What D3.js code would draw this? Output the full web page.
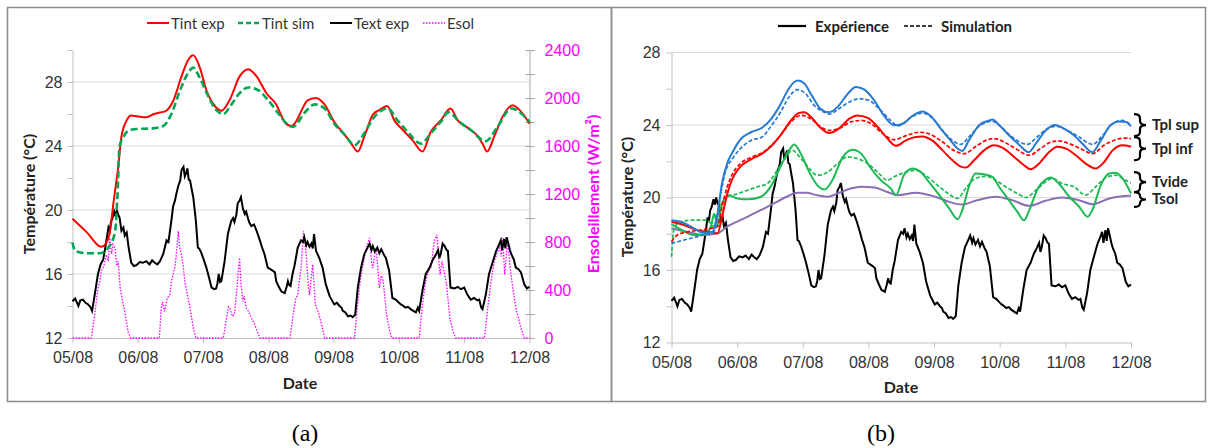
<!DOCTYPE html>
<html><head><meta charset="utf-8">
<script src="https://cdn.jsdelivr.net/npm/d3@7"></script>
<style>
body{margin:0;background:#fff;}
svg{display:block;font-family:Lato,"Open Sans",sans-serif;}
</style></head>
<body>
<svg id="c" width="1212" height="448"></svg>
<script>
// ---------- DATA ----------
const dateLabels = ["05/08","06/08","07/08","08/08","09/08","10/08","11/08","12/08"];
const tempTicksA = [12,14,16,18,20,22,24,26,28,30];
const esolTicks = [0,200,400,600,800,1000,1200,1400,1600,1800,2000,2200,2400];
const tempTicksB = [12,14,16,18,20,22,24,26,28];

// Panel (a) — day offset from 05/08, value
const tintExp = [[0,19.45],[0.22,18.6],[0.44,17.7],[0.52,17.97],[0.58,18.8],[0.62,20.2],[0.70,22.7],[0.75,24.6],[0.83,25.6],[0.90,25.9],[1.0,25.85],[1.13,25.8],[1.25,26.0],[1.34,26.1],[1.41,26.15],[1.54,26.8],[1.67,28.35],[1.77,29.36],[1.85,29.67],[1.95,28.9],[2.05,27.5],[2.18,26.5],[2.28,26.2],[2.41,26.9],[2.56,28.35],[2.69,28.8],[2.82,28.35],[2.97,27.3],[3.12,26.6],[3.25,25.5],[3.35,25.25],[3.42,25.5],[3.50,26.15],[3.60,26.85],[3.73,27.0],[3.86,26.6],[4.01,25.5],[4.17,24.7],[4.27,24.15],[4.37,23.65],[4.47,24.6],[4.60,25.95],[4.70,26.25],[4.82,26.5],[4.93,25.6],[5.06,25.0],[5.21,24.35],[5.36,23.65],[5.49,24.9],[5.64,25.6],[5.79,26.35],[5.90,25.6],[6.05,25.15],[6.21,24.6],[6.28,24.15],[6.35,23.65],[6.46,24.6],[6.59,25.85],[6.74,26.55],[6.87,26.15],[7.0,25.4]];
const tintSim = [[0,17.97],[0.04,17.45],[0.21,17.3],[0.42,17.3],[0.55,17.66],[0.65,18.6],[0.69,21.0],[0.72,23.95],[0.80,24.7],[0.85,24.95],[0.98,25.06],[1.23,25.1],[1.39,25.25],[1.52,26.05],[1.64,27.4],[1.77,28.56],[1.85,28.9],[1.95,28.25],[2.08,27.1],[2.20,26.25],[2.31,26.0],[2.43,26.57],[2.56,27.3],[2.69,27.66],[2.84,27.5],[2.99,26.9],[3.15,26.05],[3.28,25.4],[3.38,25.2],[3.55,26.05],[3.71,26.6],[3.86,26.35],[4.01,25.4],[4.17,24.7],[4.32,24.05],[4.47,24.8],[4.63,25.85],[4.83,26.35],[4.96,25.7],[5.13,24.9],[5.34,24.15],[5.49,24.8],[5.64,25.5],[5.76,26.1],[5.93,25.5],[6.10,25.0],[6.33,24.3],[6.51,25.2],[6.72,26.35],[6.87,26.05],[7.0,25.5]];
const textExp = [[0,14.3],[0.04,14.47],[0.07,14.2],[0.09,14.0],[0.12,14.35],[0.16,14.4],[0.20,14.2],[0.24,14.1],[0.28,13.9],[0.30,13.7],[0.34,14.7],[0.39,16.0],[0.43,16.6],[0.47,16.9],[0.50,17.6],[0.52,18.1],[0.55,18.9],[0.57,18.7],[0.59,19.3],[0.61,19.45],[0.64,19.9],[0.66,19.6],[0.68,20.0],[0.70,19.7],[0.72,19.55],[0.75,18.7],[0.78,18.9],[0.80,18.4],[0.83,18.6],[0.86,17.65],[0.90,16.7],[0.94,16.5],[0.98,16.55],[1.03,16.75],[1.08,16.7],[1.13,16.8],[1.18,16.6],[1.22,16.85],[1.26,16.7],[1.30,16.6],[1.34,16.8],[1.39,17.25],[1.44,18.1],[1.47,18.0],[1.49,18.6],[1.52,19.5],[1.54,20.2],[1.57,20.6],[1.59,21.0],[1.62,21.5],[1.65,21.85],[1.67,22.5],[1.70,22.7],[1.72,22.1],[1.74,22.3],[1.76,22.6],[1.78,21.9],[1.80,21.85],[1.83,21.2],[1.85,20.8],[1.89,19.3],[1.92,17.65],[1.94,17.6],[1.97,17.35],[2.01,16.9],[2.05,16.4],[2.09,15.8],[2.13,15.15],[2.17,15.05],[2.20,15.1],[2.22,15.4],[2.24,16.0],[2.26,15.5],[2.28,15.55],[2.33,16.8],[2.38,18.5],[2.43,19.3],[2.46,19.5],[2.48,19.25],[2.51,19.7],[2.53,20.4],[2.56,20.6],[2.58,20.8],[2.61,20.1],[2.64,19.75],[2.66,19.9],[2.69,19.45],[2.71,19.2],[2.74,19.0],[2.78,19.1],[2.82,18.7],[2.87,18.1],[2.90,17.7],[2.94,17.25],[2.99,16.4],[3.03,16.3],[3.07,16.2],[3.10,16.1],[3.12,15.55],[3.16,15.2],[3.20,14.9],[3.25,14.8],[3.28,15.2],[3.30,15.55],[3.32,15.3],[3.34,15.25],[3.37,16.0],[3.40,16.5],[3.45,17.65],[3.50,18.1],[3.53,18.0],[3.55,18.3],[3.58,17.8],[3.60,18.0],[3.63,17.7],[3.66,17.9],[3.68,17.6],[3.70,18.5],[3.73,17.45],[3.78,17.0],[3.83,16.4],[3.88,15.35],[3.94,14.6],[4.01,14.1],[4.05,14.2],[4.09,14.0],[4.12,13.9],[4.14,13.7],[4.18,13.6],[4.22,13.35],[4.26,13.4],[4.29,13.3],[4.33,13.45],[4.37,15.15],[4.42,16.4],[4.47,17.25],[4.52,17.65],[4.55,17.9],[4.58,17.5],[4.60,17.75],[4.63,17.4],[4.67,17.65],[4.70,17.3],[4.73,17.55],[4.77,17.2],[4.80,17.0],[4.85,16.2],[4.90,14.5],[4.95,14.4],[5.00,14.2],[5.03,14.1],[5.07,14.0],[5.10,13.9],[5.14,13.95],[5.18,13.8],[5.22,13.7],[5.26,13.6],[5.29,13.9],[5.31,13.7],[5.36,14.95],[5.41,16.0],[5.47,16.4],[5.52,16.9],[5.55,17.1],[5.57,17.25],[5.60,17.5],[5.62,17.0],[5.64,17.25],[5.67,17.9],[5.70,17.75],[5.73,17.5],[5.75,17.45],[5.79,15.15],[5.85,15.1],[5.90,15.2],[5.95,15.05],[6.00,15.15],[6.05,14.7],[6.10,14.4],[6.15,14.5],[6.20,14.35],[6.23,14.4],[6.26,13.9],[6.28,13.8],[6.33,14.7],[6.38,16.0],[6.44,16.8],[6.49,17.45],[6.53,17.8],[6.56,18.1],[6.58,17.5],[6.61,18.2],[6.63,17.6],[6.65,18.3],[6.67,18.0],[6.70,17.5],[6.72,17.25],[6.76,16.9],[6.79,16.4],[6.83,16.3],[6.87,16.1],[6.92,15.35],[6.96,15.1],[7.0,15.2]];
const esol = [[0,0],[0.29,0],[0.34,195],[0.37,330],[0.39,417],[0.42,470],[0.44,555],[0.48,600],[0.52,695],[0.55,640],[0.57,833],[0.60,700],[0.62,780],[0.65,750],[0.68,600],[0.70,640],[0.73,420],[0.75,360],[0.77,300],[0.80,222],[0.85,55],[0.89,0],
[1.33,0],[1.36,250],[1.38,300],[1.41,222],[1.45,330],[1.49,360],[1.52,480],[1.54,528],[1.57,600],[1.59,695],[1.62,890],[1.64,760],[1.67,695],[1.70,580],[1.72,472],[1.76,360],[1.80,250],[1.85,83],[1.89,0],
[2.31,0],[2.36,167],[2.39,260],[2.41,250],[2.45,180],[2.48,195],[2.52,420],[2.54,560],[2.56,667],[2.58,450],[2.61,305],[2.63,350],[2.66,250],[2.70,220],[2.74,167],[2.79,111],[2.87,0],
[3.33,0],[3.38,195],[3.42,330],[3.45,360],[3.50,583],[3.54,890],[3.58,695],[3.61,450],[3.63,360],[3.66,520],[3.68,611],[3.72,278],[3.76,220],[3.79,167],[3.84,55],[3.86,0],
[4.32,0],[4.37,305],[4.42,528],[4.46,640],[4.50,750],[4.55,833],[4.58,650],[4.60,583],[4.63,700],[4.65,750],[4.68,560],[4.70,417],[4.73,520],[4.76,472],[4.81,195],[4.86,55],[4.89,0],
[5.31,0],[5.36,278],[5.41,472],[5.45,560],[5.49,583],[5.54,805],[5.58,861],[5.61,650],[5.63,528],[5.66,640],[5.68,583],[5.73,444],[5.78,167],[5.83,55],[5.87,0],
[6.31,0],[6.36,250],[6.41,472],[6.46,639],[6.50,700],[6.54,750],[6.57,680],[6.59,833],[6.62,528],[6.65,720],[6.67,805],[6.70,600],[6.73,472],[6.79,250],[6.87,83],[6.92,0],[7.0,0]];

// Panel (b)
const tplSupExp = [[0,18.75],[0.14,18.66],[0.34,18.3],[0.49,18.05],[0.62,18.1],[0.70,19.1],[0.77,20.8],[0.85,21.9],[0.93,22.5],[1.05,23.2],[1.21,23.6],[1.38,23.85],[1.51,24.3],[1.64,25.0],[1.77,25.9],[1.87,26.37],[1.93,26.46],[2.02,26.3],[2.15,25.55],[2.27,24.9],[2.40,24.7],[2.53,25.0],[2.68,25.7],[2.81,26.1],[2.94,25.95],[3.09,25.35],[3.24,24.5],[3.39,23.98],[3.52,24.07],[3.67,24.5],[3.82,24.75],[3.95,24.5],[4.10,23.8],[4.25,23.15],[4.36,22.7],[4.43,22.57],[4.53,23.15],[4.69,24.0],[4.84,24.25],[4.89,24.3],[4.99,24.0],[5.14,23.43],[5.30,22.9],[5.44,22.5],[5.55,22.97],[5.70,23.7],[5.84,24.0],[5.98,23.8],[6.13,23.43],[6.26,22.97],[6.41,22.5],[6.54,23.15],[6.69,24.0],[6.82,24.2],[6.92,24.17],[7.0,23.93]];
const tplSupSim = [[0,17.47],[0.24,17.7],[0.49,17.93],[0.65,18.1],[0.75,20.2],[0.82,21.4],[0.93,22.15],[1.05,22.7],[1.21,23.15],[1.38,23.34],[1.51,23.9],[1.66,24.7],[1.79,25.55],[1.92,25.95],[2.05,25.7],[2.17,25.1],[2.33,24.7],[2.40,24.6],[2.55,24.9],[2.71,25.27],[2.86,25.45],[3.01,25.35],[3.19,24.8],[3.34,24.25],[3.45,23.95],[3.67,24.47],[3.82,24.66],[3.97,24.4],[4.13,23.7],[4.28,23.15],[4.41,22.93],[4.53,23.34],[4.71,24.0],[4.89,24.2],[5.02,23.9],[5.19,23.34],[5.42,22.93],[5.57,23.34],[5.73,23.8],[5.85,23.93],[6.01,23.74],[6.21,23.34],[6.41,22.93],[6.57,23.43],[6.72,24.07],[6.87,24.25],[7.0,24.0]];
const tplInfExp = [[0,18.66],[0.19,18.48],[0.39,18.2],[0.57,18.1],[0.70,18.02],[0.77,18.94],[0.85,20.2],[0.93,21.05],[1.05,21.7],[1.21,22.1],[1.38,22.42],[1.51,22.8],[1.66,23.43],[1.82,24.25],[1.94,24.66],[2.02,24.7],[2.15,24.35],[2.27,23.85],[2.40,23.56],[2.55,23.8],[2.71,24.35],[2.83,24.53],[2.99,24.39],[3.14,23.9],[3.29,23.25],[3.42,22.85],[3.57,23.15],[3.72,23.34],[3.82,23.37],[3.97,23.15],[4.13,22.6],[4.28,22.05],[4.41,21.7],[4.48,21.65],[4.61,22.05],[4.76,22.6],[4.91,22.88],[5.04,22.75],[5.22,22.24],[5.37,21.78],[5.47,21.56],[5.60,21.87],[5.75,22.5],[5.88,22.8],[6.01,22.7],[6.16,22.33],[6.31,21.87],[6.46,21.6],[6.59,21.96],[6.72,22.6],[6.87,22.88],[7.0,22.8]];
const tplInfSim = [[0,17.56],[0.09,17.93],[0.24,18.1],[0.44,18.2],[0.60,18.3],[0.70,18.4],[0.77,19.5],[0.85,20.6],[0.93,21.3],[1.05,21.87],[1.23,22.24],[1.38,22.46],[1.51,22.83],[1.66,23.43],[1.82,24.17],[1.97,24.53],[2.12,24.35],[2.27,23.9],[2.40,23.7],[2.58,23.85],[2.73,24.17],[2.89,24.25],[3.04,24.07],[3.22,23.52],[3.39,23.19],[3.62,23.47],[3.77,23.6],[3.92,23.52],[4.13,23.06],[4.30,22.6],[4.46,22.42],[4.63,22.8],[4.79,23.15],[4.91,23.25],[5.07,23.06],[5.24,22.7],[5.45,22.33],[5.62,22.7],[5.78,23.06],[5.90,23.12],[6.06,22.97],[6.23,22.7],[6.41,22.42],[6.59,22.88],[6.77,23.19],[6.92,23.28],[7.0,23.25]];
const tvideExp = [[0,18.53],[0.14,18.24],[0.34,17.93],[0.49,17.93],[0.60,18.4],[0.65,19.1],[0.70,18.48],[0.77,19.67],[0.88,20.13],[1.00,19.95],[1.18,19.9],[1.36,20.04],[1.51,20.6],[1.66,21.7],[1.79,22.6],[1.87,22.93],[1.97,22.42],[2.10,21.4],[2.22,20.68],[2.33,20.44],[2.45,20.95],[2.61,22.24],[2.76,22.64],[2.89,22.42],[3.04,21.6],[3.19,20.95],[3.34,20.5],[3.42,20.13],[3.54,21.23],[3.67,21.6],[3.80,21.4],[3.92,20.86],[4.08,20.13],[4.23,19.4],[4.36,18.8],[4.43,19.3],[4.53,20.59],[4.63,21.32],[4.76,21.28],[4.89,21.14],[4.99,20.59],[5.14,19.85],[5.27,19.21],[5.37,18.75],[5.45,19.3],[5.58,20.5],[5.70,20.99],[5.78,21.1],[5.90,20.77],[6.06,20.04],[6.21,19.49],[6.34,18.94],[6.41,19.3],[6.54,20.68],[6.67,21.32],[6.77,21.36],[6.89,20.95],[7.0,20.22]];
const tvideSim = [[0,16.73],[0.04,18.3],[0.14,18.66],[0.34,18.75],[0.54,18.75],[0.65,18.4],[0.72,19.3],[0.85,20.04],[1.00,20.2],[1.16,20.4],[1.31,20.59],[1.46,20.77],[1.61,21.5],[1.76,22.33],[1.84,22.6],[1.97,22.15],[2.10,21.6],[2.22,21.23],[2.38,21.4],[2.53,21.87],[2.68,22.24],[2.83,22.15],[2.99,21.87],[3.14,21.4],[3.29,20.95],[3.39,21.14],[3.57,21.4],[3.72,21.5],[3.90,21.14],[4.08,20.59],[4.23,20.18],[4.36,19.95],[4.48,20.5],[4.63,21.05],[4.79,21.17],[4.94,20.95],[5.09,20.59],[5.27,20.22],[5.40,20.0],[5.55,20.4],[5.70,20.86],[5.80,21.05],[5.95,20.77],[6.13,20.59],[6.31,20.13],[6.46,20.59],[6.64,21.14],[6.77,21.23],[6.92,20.95],[7.0,20.8]];
const tsol = [[0,18.3],[0.24,18.1],[0.49,17.93],[0.70,18.02],[0.85,18.4],[1.10,18.84],[1.36,19.3],[1.56,19.67],[1.77,20.07],[1.92,20.26],[2.05,20.26],[2.22,20.13],[2.38,20.04],[2.53,20.22],[2.73,20.5],[2.89,20.59],[3.09,20.55],[3.29,20.3],[3.45,20.13],[3.72,20.26],[4.02,20.04],[4.23,19.76],[4.43,19.61],[4.63,19.82],[4.94,20.04],[5.19,19.85],[5.45,19.54],[5.70,19.82],[5.95,20.0],[6.21,19.85],[6.41,19.63],[6.67,19.95],[6.97,20.1],[7.0,20.1]];

// ---------- DRAWING ----------
const svg = d3.select("#c");
const TXT = "#333";
const GRID = "#d9d9d9";
const AX = "#bfbfbf";

// panel borders
svg.append("rect").attr("x",7.5).attr("y",7.5).attr("width",604).attr("height",394)
  .attr("fill","none").attr("stroke","#8c8c8c").attr("stroke-width",1.5);
svg.append("rect").attr("x",611.5).attr("y",7.5).attr("width",594).attr("height",394)
  .attr("fill","none").attr("stroke","#8c8c8c").attr("stroke-width",1.5);

function styleAxis(g, col){
  g.select(".domain").attr("stroke",AX);
  g.selectAll(".tick line").attr("stroke",AX);
  g.selectAll(".tick text").attr("fill",col||TXT).attr("font-size",16);
}

// ===== Panel (a) =====
const xA = d3.scaleLinear().domain([0,7]).range([72.5,529.5]);
const yA = d3.scaleLinear().domain([12,30]).range([338,50]);
const yE = d3.scaleLinear().domain([0,2400]).range([338,50]);
const gA = svg.append("g");

gA.append("g").selectAll("line").data([16,20,24,28]).join("line")
  .attr("x1",xA(0)).attr("x2",xA(7)).attr("y1",d=>yA(d)).attr("y2",d=>yA(d))
  .attr("stroke",GRID).attr("stroke-width",1.2);

const axLA = gA.append("g").attr("transform",`translate(${xA(0)},0)`)
  .call(d3.axisLeft(yA).tickValues(tempTicksA).tickSize(5).tickSizeOuter(0).tickPadding(5)
    .tickFormat(d=> d%4===0 && d<30 ? d : ""));
styleAxis(axLA);
const axRA = gA.append("g").attr("transform",`translate(${xA(7)},0)`)
  .call(d3.axisRight(yE).tickValues(esolTicks).tickSize(5).tickSizeOuter(0).tickPadding(10)
    .tickFormat(d=> d%400===0 ? d : ""));
styleAxis(axRA,"#ff00ff");
axRA.select(".domain").attr("stroke","#a6a6a6");
axRA.selectAll(".tick line").attr("stroke","#a6a6a6").attr("x1",-4);
const axBA = gA.append("g").attr("transform",`translate(0,${yA(12)})`)
  .call(d3.axisBottom(xA).tickValues(d3.range(8)).tickSize(5).tickSizeOuter(0).tickPadding(9)
    .tickFormat(i=>dateLabels[i]));
styleAxis(axBA);

const lineA = d3.line().x(d=>xA(d[0])).y(d=>yA(d[1]));
const lineE = d3.line().x(d=>xA(d[0])).y(d=>yE(d[1]));
gA.append("path").datum(esol).attr("d",lineE).attr("fill","none")
  .attr("stroke","#ff00ff").attr("stroke-width",1.3).attr("stroke-dasharray","1.5,1.5");
gA.append("path").datum(textExp).attr("d",lineA).attr("fill","none")
  .attr("stroke","#000").attr("stroke-width",2);
gA.append("path").datum(tintExp).attr("d",lineA.curve(d3.curveMonotoneX)).attr("fill","none")
  .attr("stroke","#ff0000").attr("stroke-width",2);
gA.append("path").datum(tintSim).attr("d",lineA.curve(d3.curveMonotoneX)).attr("fill","none")
  .attr("stroke","#00a651").attr("stroke-width",2.6).attr("stroke-dasharray","7,3.5");

// titles (a)
gA.append("text").attr("x",300).attr("y",389).attr("text-anchor","middle")
  .attr("font-size",16).attr("font-weight","bold").attr("fill","#222").text("Date");
gA.append("text").attr("transform","translate(35,194) rotate(-90)").attr("text-anchor","middle")
  .attr("font-size",16).attr("font-weight","bold").attr("fill","#222").text("Température (°C)");
gA.append("text").attr("transform","translate(599,194) rotate(-90)").attr("text-anchor","middle")
  .attr("font-size",16).attr("font-weight","bold").attr("fill","#ff00ff").text("Ensoleillement (W/m²)");

// legend (a)
const legA = [
  {t:"Tint exp", c:"#ff0000", w:2, da:null, x:147},
  {t:"Tint sim", c:"#00a651", w:2.6, da:"5,3", x:238},
  {t:"Text exp", c:"#000", w:2, da:null, x:330},
  {t:"Esol", c:"#ff00ff", w:1.3, da:"1.5,1.5", x:423}
];
legA.forEach(l=>{
  gA.append("line").attr("x1",l.x).attr("x2",l.x+22).attr("y1",23).attr("y2",23)
    .attr("stroke",l.c).attr("stroke-width",l.w).attr("stroke-dasharray",l.da);
  gA.append("text").attr("x",l.x+24).attr("y",28.5).attr("font-size",15).attr("fill",TXT).text(l.t);
});

// ===== Panel (b) =====
const xB = d3.scaleLinear().domain([0,7]).range([671.5,1131]);
const yB = d3.scaleLinear().domain([12,28]).range([342.5,52.5]);
const gB = svg.append("g");
gB.append("g").selectAll("line").data([16,20,24,28]).join("line")
  .attr("x1",xB(0)).attr("x2",xB(7)).attr("y1",d=>yB(d)).attr("y2",d=>yB(d))
  .attr("stroke",GRID).attr("stroke-width",1.2);
const axLB = gB.append("g").attr("transform",`translate(${xB(0)},0)`)
  .call(d3.axisLeft(yB).tickValues(tempTicksB).tickSize(5).tickSizeOuter(0).tickPadding(6)
    .tickFormat(d=> d%4===0 ? d : ""));
styleAxis(axLB);
const axBB = gB.append("g").attr("transform",`translate(0,${yB(12)})`)
  .call(d3.axisBottom(xB).tickValues(d3.range(8)).tickSize(5).tickSizeOuter(0).tickPadding(9)
    .tickFormat(i=>dateLabels[i]));
styleAxis(axBB);

const lineB = d3.line().x(d=>xB(d[0])).y(d=>yB(d[1])).curve(d3.curveMonotoneX);
const lineBl = d3.line().x(d=>xB(d[0])).y(d=>yB(d[1]));
gB.append("path").datum(textExp).attr("d",lineBl).attr("fill","none").attr("stroke","#000").attr("stroke-width",2);
const seriesB = [
  {d:tsol, c:"#8a6fb4", da:null},
  {d:tvideSim, c:"#1db954", da:"4,2"},
  {d:tvideExp, c:"#1db954", da:null},
  {d:tplInfSim, c:"#ff0000", da:"4,2"},
  {d:tplInfExp, c:"#ff0000", da:null},
  {d:tplSupSim, c:"#2a7bd0", da:"4,2"},
  {d:tplSupExp, c:"#2a7bd0", da:null}
];
seriesB.forEach(s=>{
  gB.append("path").datum(s.d).attr("d",lineB).attr("fill","none").attr("stroke",s.c)
    .attr("stroke-width",s.da?1.7:2).attr("stroke-dasharray",s.da);
});

gB.append("text").attr("x",901).attr("y",393).attr("text-anchor","middle")
  .attr("font-size",16).attr("font-weight","bold").attr("fill","#222").text("Date");
gB.append("text").attr("transform","translate(633,197) rotate(-90)").attr("text-anchor","middle")
  .attr("font-size",16).attr("font-weight","bold").attr("fill","#222").text("Température (°C)");

// legend (b)
gB.append("line").attr("x1",778).attr("x2",806).attr("y1",26).attr("y2",26).attr("stroke","#000").attr("stroke-width",2.2);
gB.append("text").attr("x",815).attr("y",31.5).attr("font-size",15).attr("font-weight","bold").attr("fill","#222").text("Expérience");
gB.append("line").attr("x1",904).attr("x2",934).attr("y1",26).attr("y2",26).attr("stroke","#000").attr("stroke-width",1.6).attr("stroke-dasharray","4,2");
gB.append("text").attr("x",941).attr("y",31.5).attr("font-size",15).attr("font-weight","bold").attr("fill","#222").text("Simulation");

// braces
const braces = [
  {t:"Tpl sup", a:24.6, b:23.39},
  {t:"Tpl inf", a:23.33, b:22.06},
  {t:"Tvide", a:21.4, b:20.3},
  {t:"Tsol", a:20.3, b:19.48}
];
function bracePath(x,y1,y2,w){
  const ym=(y1+y2)/2, h=w/2, q=Math.min(4,(y2-y1)/4);
  return `M${x},${y1} Q${x+h},${y1} ${x+h},${y1+q} L${x+h},${ym-q} Q${x+h},${ym} ${x+w},${ym} Q${x+h},${ym} ${x+h},${ym+q} L${x+h},${y2-q} Q${x+h},${y2} ${x},${y2}`;
}
braces.forEach(b=>{
  const y1=yB(b.a), y2=yB(b.b);
  gB.append("path").attr("d",bracePath(1134,y1,y2,12)).attr("fill","none").attr("stroke","#000").attr("stroke-width",2.2);
  gB.append("text").attr("x",1152).attr("y",(y1+y2)/2+5).attr("font-size",15).attr("font-weight","bold").attr("fill","#222").text(b.t);
});

// captions
svg.append("text").attr("x",305).attr("y",441).attr("text-anchor","middle").attr("font-family","'Liberation Serif','Times New Roman',serif").attr("font-size",24).attr("fill","#000").text("(a)");
svg.append("text").attr("x",881).attr("y",441).attr("text-anchor","middle").attr("font-family","'Liberation Serif','Times New Roman',serif").attr("font-size",24).attr("fill","#000").text("(b)");
</script>
</body></html>
